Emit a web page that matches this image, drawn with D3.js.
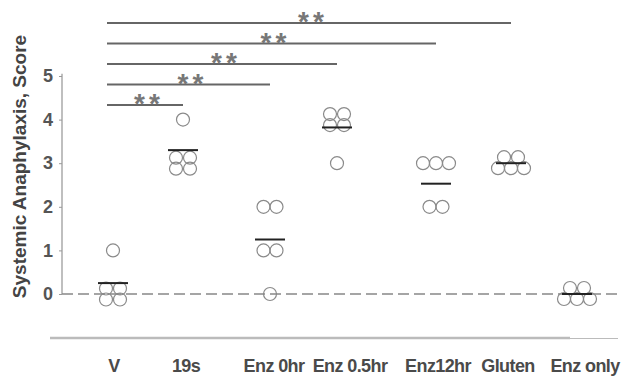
<!DOCTYPE html>
<html lang="en">

<head>
    <meta charset="UTF-8">
    <title>Systemic anaphylaxis score</title>
    <style>
        body {
            margin: 0;
            background: #fff;
        }

        svg {
            display: block;
            font-family: "Liberation Sans", Arial, sans-serif;
        }

        .tick line {
            stroke: #999;
        }

        .tick text {
            font-size: 18px;
            font-weight: bold;
            fill: #555;
        }

        .axis path {
            stroke: #aaa;
            stroke-width: 1.5;
        }
    </style>
</head>

<body>

    <svg width="628" height="376"></svg>

    <script src="https://d3js.org/d3.v7.min.js"></script>
    <script>
        // groups and per-animal scores
        const groups = ["V", "19s", "Enz 0hr", "Enz 0.5hr", "Enz12hr", "Gluten", "Enz only"];
        const scores = [
            [1, 0, 0, 0, 0],
            [4, 3, 3, 3, 3],
            [2, 2, 1, 1, 0],
            [4, 4, 4, 4, 3],
            [3, 3, 3, 2, 2],
            [3, 3, 3, 3, 3],
            [0, 0, 0, 0, 0]
        ];
        const meanScores = [0.25, 3.3, 1.25, 3.82, 2.53, 3.0, 0.0];
        const yTicks = [0, 1, 2, 3, 4, 5];
        // significance brackets, all against V
        const comparisons = ["19s", "Enz 0hr", "Enz 0.5hr", "Enz12hr", "Gluten"];
        const sigLabels = ["**", "**", "**", "**", "**"];

        const svg = d3.select("svg");

        const y = d3.scaleLinear()
            .domain([0, 5])
            .range([294, 76]);

        // the groups sit at uneven spacing in the original
        const x = d3.scaleOrdinal()
            .domain(groups)
            .range([113, 183, 270, 337, 436, 511, 577]);

        const xLabel = d3.scaleOrdinal()
            .domain(groups)
            .range([114, 186, 274, 350, 438, 508, 585]);

        // y axis
        svg.append("g")
            .attr("class", "axis")
            .attr("transform", "translate(62,0)")
            .call(d3.axisLeft(y).tickValues(yTicks).tickFormat(d3.format("d"))
                .tickSize(3).tickSizeOuter(0).tickPadding(6))
            .call(g => g.select(".domain").attr("d", `M0,${y(5.05)}V${y(0)}`));

        svg.append("text")
            .attr("transform", `translate(26,${(35 + 298) / 2}) rotate(-90)`)
            .attr("text-anchor", "middle")
            .attr("font-size", 19)
            .attr("font-weight", "bold")
            .attr("fill", "#444")
            .text("Systemic Anaphylaxis, Score");

        // dashed zero line
        svg.append("line")
            .attr("x1", 62).attr("x2", 622)
            .attr("y1", y(0)).attr("y2", y(0))
            .attr("stroke", "#888")
            .attr("stroke-width", 1.3)
            .attr("stroke-dasharray", "11,5");

        // bottom rule
        svg.append("line")
            .attr("x1", 50).attr("x2", 570)
            .attr("y1", 338).attr("y2", 338)
            .attr("stroke", "#bbb")
            .attr("stroke-width", 2.5);
        svg.append("line")
            .attr("x1", 570).attr("x2", 618)
            .attr("y1", 338.5).attr("y2", 338.5)
            .attr("stroke", "#bbb")
            .attr("stroke-width", 1);

        svg.append("g")
            .selectAll("text")
            .data(groups)
            .join("text")
            .attr("x", d => xLabel(d))
            .attr("y", 372)
            .attr("text-anchor", "middle")
            .attr("font-size", 18)
            .attr("font-weight", "bold")
            .attr("letter-spacing", -0.6)
            .attr("fill", "#4a4a4a")
            .text(d => d);

        // lay out tied scores as little clusters
        function cluster(n) {
            if (n === 1) return [[0, 0]];
            if (n === 2) return [[-6.5, 0], [6.5, 0]];
            if (n === 3) return [[-13, 0], [0, 0], [13, 0]];
            if (n === 4) return [[-7, -5.5], [7, -5.5], [-7, 5.5], [7, 5.5]];
            return [[-7, -6], [7, -6], [-13, 5], [0, 5], [13, 5]];
        }

        const points = [];
        groups.forEach((g, i) => {
            d3.groups(scores[i], v => v).forEach(([v, vals]) => {
                cluster(vals.length).forEach(([dx, dy]) => {
                    points.push({ group: g, value: v, dx, dy });
                });
            });
        });

        svg.append("g")
            .selectAll("circle")
            .data(points)
            .join("circle")
            .attr("cx", d => x(d.group) + d.dx)
            .attr("cy", d => y(d.value) + d.dy)
            .attr("r", 6.5)
            .attr("fill", "none")
            .attr("stroke", "#8a8a8a")
            .attr("stroke-width", 1.2);

        svg.append("g")
            .selectAll("line")
            .data(groups)
            .join("line")
            .attr("x1", d => x(d) - 15)
            .attr("x2", d => x(d) + 15)
            .attr("y1", (d, i) => y(meanScores[i]))
            .attr("y2", (d, i) => y(meanScores[i]))
            .attr("stroke", "#222")
            .attr("stroke-width", 2);

        // significance bars
        const sig = svg.append("g");
        comparisons.forEach((g, i) => {
            const by = 105 - i * 20.5;
            const x0 = x("V") - 6;
            const x1 = x(g);
            sig.append("line")
                .attr("x1", x0).attr("x2", x1)
                .attr("y1", by).attr("y2", by)
                .attr("stroke", "#666")
                .attr("stroke-width", 2);
            sig.append("text")
                .attr("x", (x0 + x1) / 2 + 4)
                .attr("y", by + 8)
                .attr("text-anchor", "middle")
                .attr("font-size", 28)
                .attr("font-weight", "bold")
                .attr("letter-spacing", 4)
                .attr("fill", "#777")
                .text(sigLabels[i]);
        });
    </script>

</body>

</html>
